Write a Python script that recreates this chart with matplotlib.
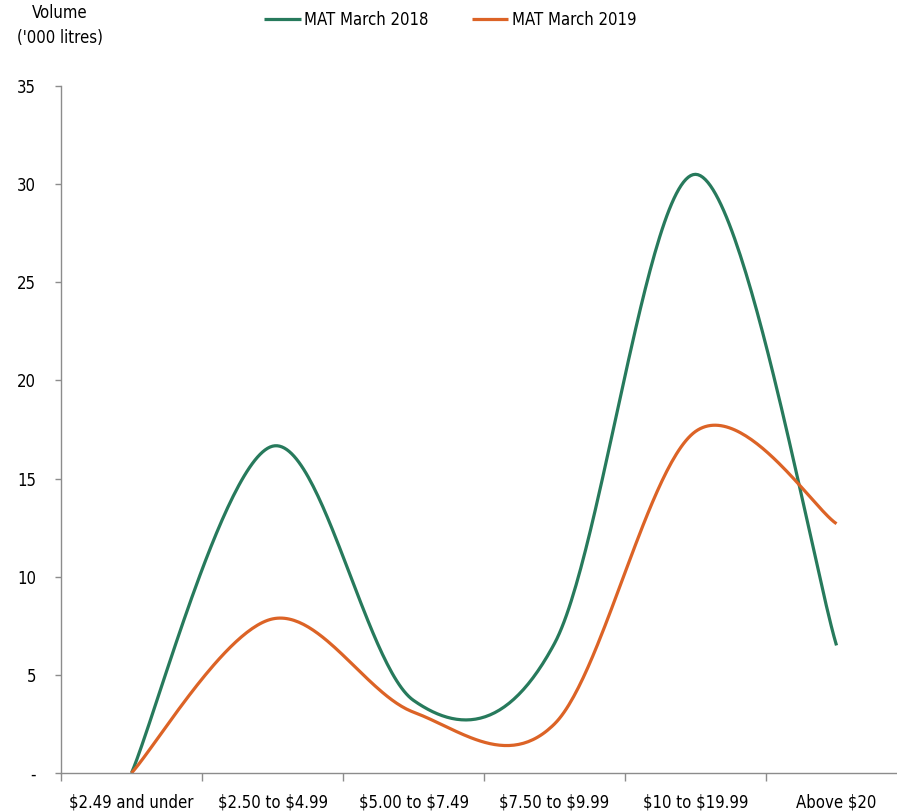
import os
import numpy as np
import matplotlib
matplotlib.use("Agg")
import matplotlib.pyplot as plt
from matplotlib import font_manager
from matplotlib.font_manager import FontProperties

# Price bands and volumes ('000 litres)
categories = ["$2.49 and under", "$2.50 to $4.99", "$5.00 to $7.49",
              "$7.50 to $9.99", "$10 to $19.99", "Above $20"]
mat_2018 = [0.0, 16.65, 3.7, 6.6, 30.5, 6.5]
mat_2019 = [0.0, 7.85, 3.1, 2.5, 17.4, 12.7]
series_names = ["MAT March 2018", "MAT March 2019"]
y_ticks = [0, 5, 10, 15, 20, 25, 30, 35]
y_tick_labels = ["-", "5", "10", "15", "20", "25", "30", "35"]

GREEN = "#277a5c"
ORANGE = "#dc6326"
AXIS_GREY = "#8c8c8c"

plt.rcParams["text.parse_math"] = False

# Prefer a narrow sans face when one is installed
FS = 12
prefs = ["liberationsansnarrow-regular", "dejavusanscondensed.ttf",
         "robotocondensed-regular", "opensans-condensedregular",
         "opensans_condensed-regular", "notosans-condensed.ttf",
         "notosanscondensed-regular"]
files = {os.path.basename(f.fname).lower(): f.fname for f in font_manager.fontManager.ttflist}
chosen = None
for pref in prefs:
    for base, path in files.items():
        if base.startswith(pref):
            chosen = path
            break
    if chosen:
        break
if chosen:
    font = FontProperties(fname=chosen, size=FS)
else:
    font = FontProperties(family=["Liberation Sans", "DejaVu Sans"], size=FS)


def smooth(xs, ys, n=60):
    """Cubic Bezier smoothing through every point (Catmull-Rom style tangents)."""
    p = np.column_stack([xs, ys]).astype(float)
    ext = np.vstack([p[0], p, p[-1]])
    out = []
    t = np.linspace(0, 1, n)[:, None]
    for i in range(len(p) - 1):
        p0, p1, p2, p3 = ext[i], ext[i + 1], ext[i + 2], ext[i + 3]
        c1 = p1 + (p2 - p0) / 6.0
        c2 = p2 - (p3 - p1) / 6.0
        seg = ((1 - t) ** 3) * p1 + 3 * ((1 - t) ** 2) * t * c1 + 3 * (1 - t) * t ** 2 * c2 + t ** 3 * p2
        out.append(seg if i == 0 else seg[1:])
    seg = np.vstack(out)
    return seg[:, 0], seg[:, 1]


W, H = 897, 811
fig = plt.figure(figsize=(W / 100, H / 100), dpi=100)
ax = fig.add_axes([61 / W, 1 - 773 / H, 846 / W, (773 - 86) / H])

x = np.arange(len(categories))
for vals, color, name in [(mat_2018, GREEN, series_names[0]), (mat_2019, ORANGE, series_names[1])]:
    sx, sy = smooth(x, vals)
    ax.plot(sx, sy, color=color, lw=2.3, label=name, solid_capstyle="butt", clip_on=False)

ax.set_xlim(-0.5, len(categories) - 0.5)
ax.set_ylim(0, 35)

for side in ["top", "right"]:
    ax.spines[side].set_visible(False)
for side in ["left", "bottom"]:
    ax.spines[side].set_color(AXIS_GREY)
    ax.spines[side].set_linewidth(1.0)

ax.set_yticks(y_ticks)
ax.set_yticklabels(y_tick_labels, fontproperties=font)
ax.tick_params(axis="y", direction="out", length=4, width=1, color=AXIS_GREY, pad=14)

ax.set_xticks(np.arange(-0.5, len(categories), 1.0))
ax.set_xticklabels([])
ax.tick_params(axis="x", which="major", direction="out", length=6, width=1, color=AXIS_GREY)
ax.set_xticks(x, minor=True)
ax.set_xticklabels(categories, minor=True, fontproperties=font)
ax.tick_params(axis="x", which="minor", length=0, pad=15)

fig.text(60 / W, 1 - 13 / H, "Volume", ha="center", va="center", fontproperties=font)
fig.text(60 / W, 1 - 38 / H, "('000 litres)", ha="center", va="center", fontproperties=font)

fig.legend(loc="center", bbox_to_anchor=(450 / W, 1 - 20 / H), ncol=2, frameon=False,
           prop=font, handlelength=2.2, handletextpad=0.2, columnspacing=2.6)

fig.savefig("out.png", dpi=100)
